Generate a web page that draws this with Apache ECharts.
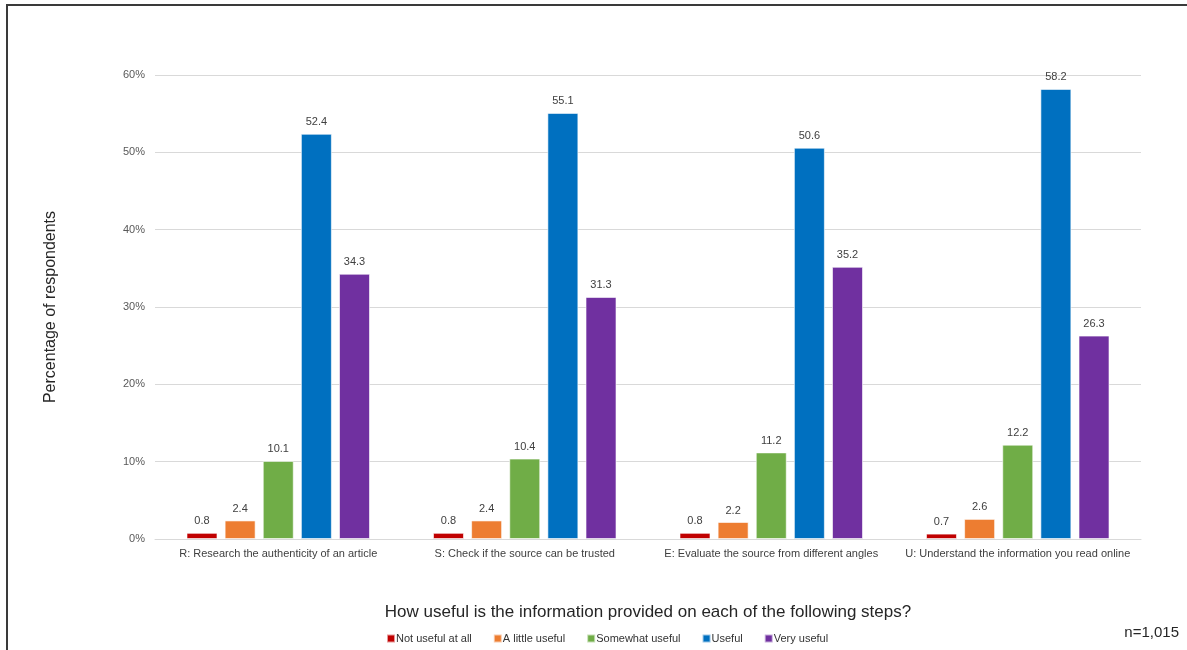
<!DOCTYPE html>
<html>
<head>
<meta charset="utf-8">
<script src="https://cdn.jsdelivr.net/npm/echarts@6/dist/echarts.min.js"></script>
<style>
  html, body { margin: 0; padding: 0; background: #fff; }
  #frame { position: absolute; left: 6px; top: 4px; width: 1200px; height: 700px;
           border-left: 2px solid #3a3a3a; border-top: 2px solid #3a3a3a; }
  #chart { position: absolute; left: 0; top: 0; width: 1187px; height: 650px; }
</style>
</head>
<body>
<div id="frame"></div>
<div id="chart"></div>
<script>
// Survey steps (x categories)
const categories = [
  'R: Research the authenticity of an article',
  'S: Check if the source can be trusted',
  'E: Evaluate the source from different angles',
  'U: Understand the information you read online'
];

// Response levels, in legend order
const levels = ['Not useful at all', 'A little useful', 'Somewhat useful', 'Useful', 'Very useful'];
const levelColors = ['#C00000', '#ED7D31', '#70AD47', '#0070C0', '#7030A0'];

// Percent of respondents per level, one value per step (R, S, E, U)
const notUseful      = [0.8, 0.8, 0.8, 0.7];
const littleUseful   = [2.4, 2.4, 2.2, 2.6];
const somewhatUseful = [10.1, 10.4, 11.2, 12.2];
const useful         = [52.4, 55.1, 50.6, 58.2];
const veryUseful     = [34.3, 31.3, 35.2, 26.3];

const seriesValues = [notUseful, littleUseful, somewhatUseful, useful, veryUseful];

const chart = echarts.init(document.getElementById('chart'));
const font = 'Liberation Sans, Arial, sans-serif';

chart.setOption({
  animation: false,
  textStyle: { fontFamily: font },
  grid: { left: 155, right: 46, top: 75, bottom: 111 },
  legend: {
    data: levels,
    left: 381,
    top: 628,
    itemWidth: 8,
    itemHeight: 8,
    itemGap: 21,
    icon: 'rect',
    textStyle: { fontSize: 11, color: '#333', fontFamily: font, padding: [0, 0, 0, -4] }
  },
  xAxis: {
    type: 'category',
    data: categories,
    name: 'How useful is the information provided on each of the following steps?',
    nameLocation: 'middle',
    nameGap: 65,
    nameTextStyle: { fontSize: 17, color: '#262626', fontFamily: font },
    axisTick: { show: false },
    axisLine: { lineStyle: { color: '#d9d9d9', width: 1 } },
    axisLabel: { fontSize: 11, color: '#404040', margin: 9, interval: 0 }
  },
  yAxis: {
    type: 'value',
    min: 0,
    max: 60,
    interval: 10,
    name: 'Percentage of respondents',
    nameLocation: 'middle',
    nameGap: 96,
    nameTextStyle: { fontSize: 16, color: '#262626', fontFamily: font },
    axisLabel: { formatter: '{value}%', fontSize: 11, color: '#595959', margin: 10 },
    splitLine: { lineStyle: { color: '#d9d9d9', width: 1 } },
    axisLine: { show: false },
    axisTick: { show: false }
  },
  series: levels.map((name, i) => ({
    name: name,
    type: 'bar',
    data: seriesValues[i],
    barWidth: 31,
    barGap: '23%',
    itemStyle: { color: levelColors[i], borderColor: 'rgba(255,255,255,0.6)', borderWidth: 1 },
    label: {
      show: true,
      position: 'top',
      distance: 6,
      fontSize: 11,
      color: '#404040',
      formatter: p => p.value.toFixed(1)
    }
  })),
  graphic: [{
    type: 'text',
    right: 8,
    top: 625,
    style: { text: 'n=1,015', fontSize: 15, fill: '#262626', fontFamily: font }
  }]
});
</script>
</body>
</html>
